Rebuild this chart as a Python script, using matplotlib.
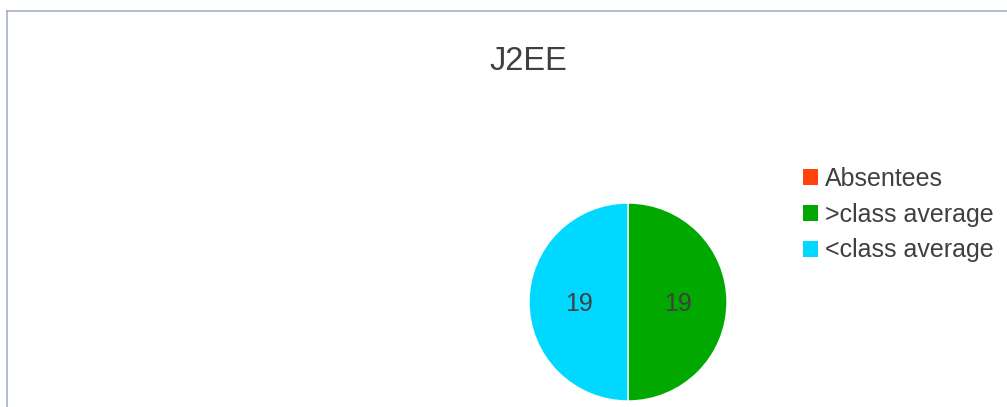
import matplotlib
matplotlib.use("Agg")
import matplotlib.pyplot as plt
from matplotlib.patches import Patch
from matplotlib.lines import Line2D

title = "J2EE"
categories = ["Absentees", ">class average", "<class average"]
values = [0, 19, 19]
colors = ["#ff420e", "#00a800", "#00d8ff"]

text_color = "#404040"
plt.rcParams["font.family"] = ["Liberation Sans", "DejaVu Sans"]

W, H = 1007, 407
fig = plt.figure(figsize=(W / 100, H / 100), dpi=100)

# frame lines (top and left)
fig.add_artist(Line2D([7 / W, 7 / W], [0, 1 - 11 / H], color="#a3b0cc", lw=1.2,
                      transform=fig.transFigure))
fig.add_artist(Line2D([7 / W, 1], [1 - 11 / H, 1 - 11 / H], color="#a3b0cc", lw=1.2,
                      transform=fig.transFigure))

cx, cy, r = 628, 302, 100
ax = fig.add_axes([(cx - r) / W, (H - cy - r) / H, 2 * r / W, 2 * r / H])


def fmt(pct):
    v = pct * sum(values) / 100
    return "" if v < 0.5 else f"{v:.0f}"


wedges, _, autotexts = ax.pie(
    values, colors=colors, startangle=90, counterclock=False,
    autopct=fmt, pctdistance=0.5, radius=0.99,
    wedgeprops=dict(edgecolor="white", linewidth=1),
    textprops=dict(color=text_color, fontsize=18),
)
for t in autotexts:
    t.set_y(t.get_position()[1] - 0.02)
ax.set_xlim(-1, 1)
ax.set_ylim(-1, 1)
ax.set_aspect("equal")
ax.axis("off")

fig.text(528 / W, 1 - 62 / H, title, ha="center", va="center",
         fontsize=23.5, color=text_color)

handles = [Patch(facecolor=c, edgecolor="none") for c in colors]
fig.legend(handles, categories, loc="upper left",
           bbox_to_anchor=(803 / W, 1 - 167 / H), frameon=False,
           fontsize=18, labelcolor=text_color, handlelength=0.6,
           handleheight=0.6, handletextpad=0.28, labelspacing=0.47,
           borderaxespad=0, borderpad=0)

fig.savefig("out.png", dpi=100)
